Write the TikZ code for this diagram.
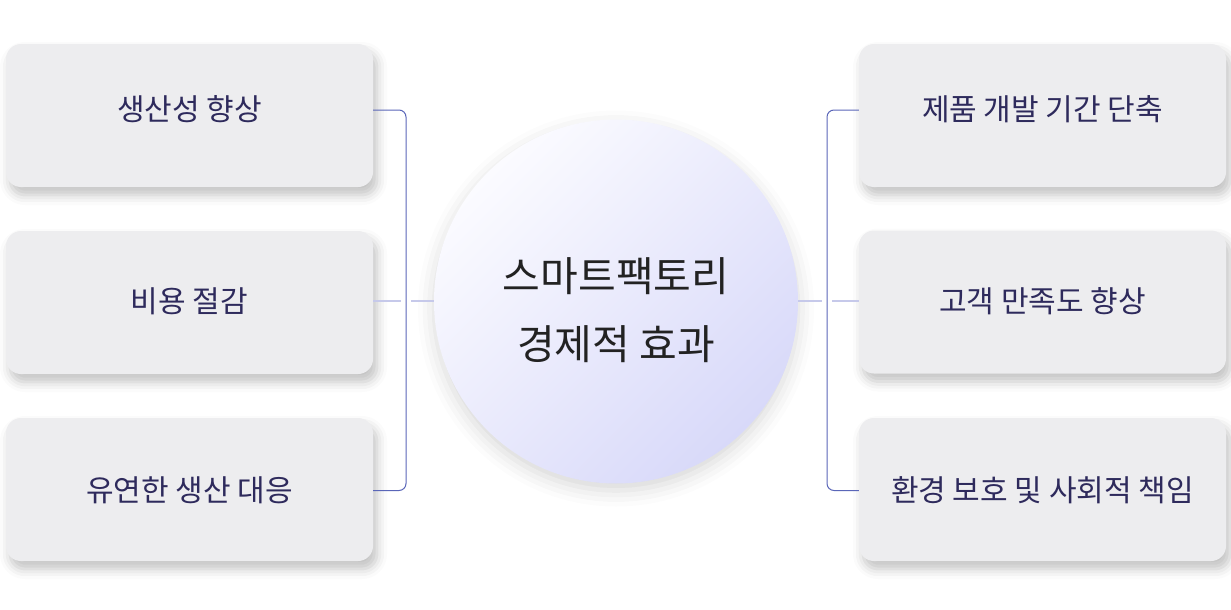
\documentclass[tikz,border=0pt]{standalone}
\usepackage{fontspec}
\setmainfont{Noto Sans CJK KR}
\usetikzlibrary{shadows.blur}

\definecolor{boxfill}{HTML}{EDEDEF}
\definecolor{boxtext}{HTML}{2E2A5C}
\definecolor{hubtext}{HTML}{222222}
\definecolor{hublight}{HTML}{FBFBFF}
\definecolor{hubdark}{HTML}{D8D9F9}
\definecolor{bracketcol}{HTML}{5A66B8}
\definecolor{linkcol}{HTML}{C6C9EA}

\begin{document}
\begin{tikzpicture}[x=1pt, y=-1pt,
effect/.style = {rectangle, rounded corners=15pt, fill=boxfill, text=boxtext,
  minimum width=367pt, minimum height=143pt, inner sep=0pt,
  text height=24pt, text depth=4pt,
  font=\fontsize{30}{36}\selectfont,
  blur shadow={shadow xshift=4pt, shadow yshift=-8pt, shadow blur radius=10pt, shadow opacity=24}},
lifted/.style = {text depth=15pt},
lowered/.style = {text height=27pt},
hub/.style = {circle, minimum size=364pt, inner sep=0pt,
  top color=hublight, bottom color=hubdark, shading angle=45,
  blur shadow={shadow xshift=0pt, shadow yshift=-7pt, shadow blur radius=16pt, shadow opacity=16}},
hubtitle/.style = {text=hubtext, align=center, font=\fontsize{41}{68}\selectfont},
bracket/.style = {draw=bracketcol, line width=1pt, rounded corners=7pt},
link/.style = {draw=linkcol, line width=1.5pt},
]

\useasboundingbox (0,0) rectangle (1231,610);

% Draw hub
\node[hub] (hub) at (616,301.5) {};
\node[hubtitle] (title) at (616,310.5) {스마트팩토리\\경제적 효과};

% Draw effect boxes
\node[effect, lifted]  (prod) at (189.5,115.5) {생산성 향상};
\node[effect]          (cost) at (189.5,302.5) {비용 절감};
\node[effect, lowered] (flex) at (189.5,489.5) {유연한 생산 대응};
\node[effect, lifted]  (dev)  at (1042.5,115.5) {제품 개발 기간 단축};
\node[effect]          (cust) at (1042.5,302) {고객 만족도 향상};
\node[effect, lowered] (env)  at (1042.5,489.5) {환경 보호 및 사회적 책임};

% Junctions
\coordinate (lj) at (406,301);
\coordinate (rj) at (827,301);

% Draw links to hub
\path[link] (cost.east |- lj) -- ([xshift=-5pt]lj);
\path[link] ([xshift=5pt]lj) -- (hub.west |- lj);
\path[link] (hub.east |- rj) -- ([xshift=-5pt]rj);
\path[link] ([xshift=5pt]rj) -- (cust.west |- rj);

% Draw brackets
\path[bracket] ([yshift=5.5pt]prod.east) -| (lj) |- ([yshift=-1pt]flex.east);
\path[bracket] ([yshift=5.5pt]dev.west) -| (rj) |- ([yshift=-1pt]env.west);

\end{tikzpicture}
\end{document}
